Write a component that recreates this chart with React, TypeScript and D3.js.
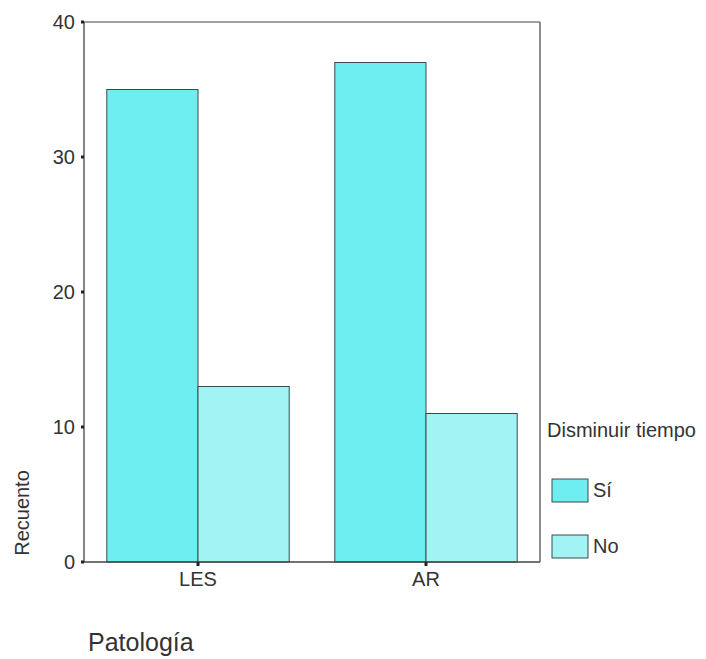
import React from "react";
import * as d3 from "d3";

const categories = ["LES", "AR"];
const seriesNames = ["Sí", "No"];
const siValues = [35, 37];
const noValues = [13, 11];
const yTicks = [0, 10, 20, 30, 40];
const colors = ["#6eeef0", "#a2f4f4"];

const W = 706;
const H = 659;
const left = 84;
const right = 540;
const top = 22;
const bottom = 562;
const font = "'Liberation Sans', Arial, sans-serif";
const ink = "#333";

export default function App() {
  const x0 = d3.scaleBand<string>().domain(categories).range([left, right]).paddingInner(0.2).paddingOuter(0.1);
  const x1 = d3.scaleBand<string>().domain(seriesNames).range([0, x0.bandwidth()]).padding(0);
  const y = d3.scaleLinear().domain([0, 40]).range([bottom, top]);
  const series = [siValues, noValues];

  return (
    <svg width={W} height={H} style={{ position: "absolute", left: 0, top: 0 }} fontFamily={font}>
      <rect x={0} y={0} width={W} height={H} fill="#fff" />
      {categories.map((c, i) =>
        seriesNames.map((s, j) => {
          const v = series[j][i];
          return (
            <rect
              key={c + s}
              x={(x0(c) as number) + (x1(s) as number)}
              y={y(v)}
              width={x1.bandwidth()}
              height={y(0) - y(v)}
              fill={colors[j]}
              stroke="#3a4a4a"
              strokeWidth={1}
            />
          );
        })
      )}
      {/* frame */}
      <line x1={left} x2={right} y1={top} y2={top} stroke="#444" strokeWidth={1.2} />
      <line x1={right} x2={right} y1={top} y2={bottom} stroke="#444" strokeWidth={1.2} />
      <line x1={left} x2={left} y1={top} y2={bottom} stroke="#444" strokeWidth={1.3} />
      <line x1={left - 1} x2={right} y1={bottom} y2={bottom} stroke="#444" strokeWidth={1.3} />
      {yTicks.map((t) => (
        <g key={t}>
          <line x1={left - 3} x2={left} y1={y(t)} y2={y(t)} stroke="#222" strokeWidth={3} />
          <text x={75} y={y(t)} dy="0.35em" textAnchor="end" fontSize={20} fill={ink}>
            {t}
          </text>
        </g>
      ))}
      {categories.map((c) => {
        const cx = (x0(c) as number) + x0.bandwidth() / 2;
        return (
          <g key={c}>
            <line x1={cx} x2={cx} y1={bottom} y2={bottom + 4} stroke="#222" strokeWidth={3} />
            <text x={cx} y={586} textAnchor="middle" fontSize={20} fill={ink}>
              {c}
            </text>
          </g>
        );
      })}
      <text transform="translate(29,513) rotate(-90)" textAnchor="middle" fontSize={20} fill={ink}>
        Recuento
      </text>
      <text x={88} y={651} fontSize={25} fill={ink}>
        Patología
      </text>
      <text x={547} y={437} fontSize={20} fill={ink}>
        Disminuir tiempo
      </text>
      {seriesNames.map((s, j) => {
        const by = j === 0 ? 479 : 535;
        return (
          <g key={s}>
            <rect x={552} y={by} width={36} height={23} fill={colors[j]} stroke="#3a4a4a" strokeWidth={1} />
            <text x={593} y={by + 18} fontSize={20} fill={ink}>
              {s}
            </text>
          </g>
        );
      })}
    </svg>
  );
}
